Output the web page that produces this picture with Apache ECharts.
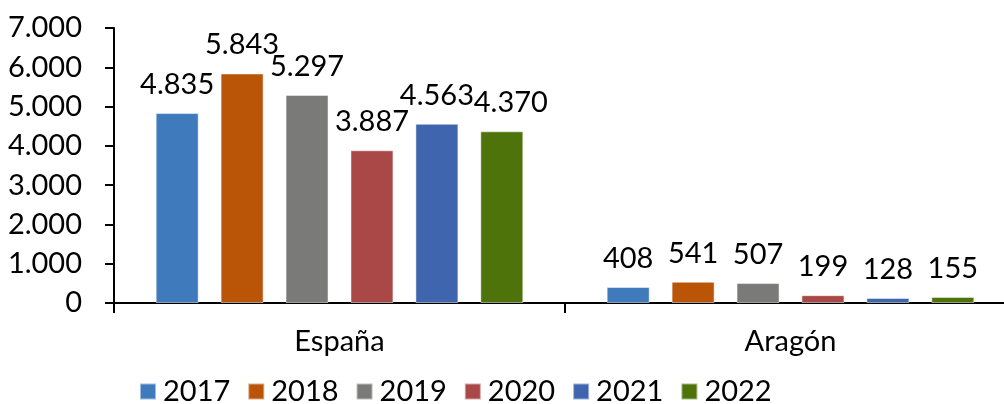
<!DOCTYPE html>
<html>
<head>
<meta charset="utf-8">
<script src="https://cdn.jsdelivr.net/npm/echarts@6/dist/echarts.min.js"></script>
<style>
  html, body { margin: 0; padding: 0; background: #fff; }
  #chart { width: 1004px; height: 404px; }
</style>
</head>
<body>
<div id="chart"></div>
<script>
  // datos
  var categorias = ['España', 'Aragón'];
  var anios = ['2017', '2018', '2019', '2020', '2021', '2022'];
  var v2017 = [4835, 408];
  var v2018 = [5843, 541];
  var v2019 = [5297, 507];
  var v2020 = [3887, 199];
  var v2021 = [4563, 128];
  var v2022 = [4370, 155];
  var valores = [v2017, v2018, v2019, v2020, v2021, v2022];
  var colores = ['#3F7ABD', '#BA5407', '#7A7A78', '#AA4848', '#3F65AF', '#4E730B'];

  var fuente = 'Lato';

  // formato con punto de miles
  function miles(v) {
    return String(v).replace(/\B(?=(\d{3})+(?!\d))/g, '.');
  }

  var myChart = echarts.init(document.getElementById('chart'));

  var series = anios.map(function (a, i) {
    return {
      name: a,
      type: 'bar',
      // la etiqueta de 2022 en España va algo desplazada a la derecha
      data: valores[i].map(function (v, j) {
        if (i === 5 && j === 0) return { value: v, label: { offset: [9, 0] } };
        return v;
      }),
      barWidth: 43,
      barGap: '51%',
      itemStyle: {
        color: colores[i],
        borderColor: 'rgba(255,255,255,0.5)',
        borderWidth: 1
      },
      label: {
        show: true,
        position: 'top',
        distance: 14,
        color: '#000',
        fontFamily: fuente,
        fontSize: 29,
        formatter: function (p) { return miles(p.value); }
      }
    };
  });

  myChart.setOption({
    animation: false,
    textStyle: { fontFamily: fuente },
    grid: {
      left: 114,
      top: 28,
      width: 902,
      height: 275,
      outerBoundsMode: 'none'
    },
    legend: {
      data: anios,
      left: 139,
      top: 377,
      padding: 0,
      icon: 'rect',
      itemWidth: 16,
      itemHeight: 16,
      itemGap: 17,
      textStyle: {
        fontFamily: fuente,
        fontSize: 29,
        color: '#000',
        padding: [0, 0, 0, 2]
      }
    },
    xAxis: {
      type: 'category',
      data: categorias,
      axisLine: { lineStyle: { color: '#000', width: 2 } },
      axisTick: { show: true, length: 10, lineStyle: { color: '#000', width: 2 } },
      axisLabel: {
        margin: 24,
        color: '#000',
        fontFamily: fuente,
        fontSize: 29
      }
    },
    yAxis: {
      type: 'value',
      min: 0,
      max: 7000,
      interval: 1000,
      axisLine: { show: true, lineStyle: { color: '#000', width: 2 } },
      axisTick: { show: true, length: 9, lineStyle: { color: '#000', width: 2 } },
      splitLine: { show: false },
      axisLabel: {
        margin: 32,
        color: '#000',
        fontFamily: fuente,
        fontSize: 29,
        formatter: function (v) { return miles(v); }
      }
    },
    series: series
  });
</script>
</body>
</html>
